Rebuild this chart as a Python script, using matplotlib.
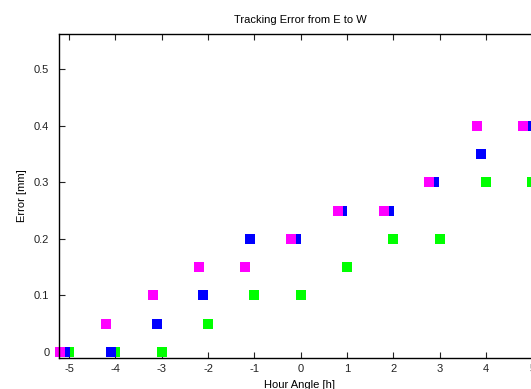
import numpy as np
import matplotlib.pyplot as plt

# Tracking error vs hour angle, three series
x_green = [-5, -4, -3, -2, -1, 0, 1, 2, 3, 4, 5]
y_green = [0.0, 0.0, 0.0, 0.05, 0.1, 0.1, 0.15, 0.2, 0.2, 0.3, 0.3]

x_blue = [-5.09, -4.1, -3.1, -2.1, -1.1, -0.1, 0.89, 1.9, 2.88, 3.89, 4.9]
y_blue = [0.0, 0.0, 0.05, 0.1, 0.2, 0.2, 0.25, 0.25, 0.3, 0.35, 0.4]

x_magenta = [-5.2, -4.2, -3.2, -2.2, -1.2, -0.21, 0.8, 1.79, 2.78, 3.8, 4.8]
y_magenta = [0.0, 0.05, 0.1, 0.15, 0.15, 0.2, 0.25, 0.25, 0.3, 0.4, 0.4]

x_ticks = [-5, -4, -3, -2, -1, 0, 1, 2, 3, 4, 5]
y_ticks = [0, 0.1, 0.2, 0.3, 0.4, 0.5]
y_ticklabels = ["0", "0.1", "0.2", "0.3", "0.4", "0.5"]

plt.rcParams['font.family'] = ['Liberation Sans', 'DejaVu Sans']
plt.rcParams['axes.unicode_minus'] = False

W, H = 531, 389
fig = plt.figure(figsize=(W / 100, H / 100), dpi=100)
# axes runs past the right edge of the picture, like the original
left, right, top, bottom = 59, 541, 34, 358
ax = fig.add_axes([left / W, 1 - bottom / H, (right - left) / W, (bottom - top) / H])

ms = 7.2
ax.plot(x_green, y_green, 's', color='#00ff00', ms=ms, mew=0, clip_on=False)
ax.plot(x_blue, y_blue, 's', color='#0000ff', ms=ms, mew=0, clip_on=False)
ax.plot(x_magenta, y_magenta, 's', color='#ff00ff', ms=ms, mew=0, clip_on=False)

ax.set_xlim(-5.22, 5.19)
ax.set_ylim(-0.0106, 0.562)
ax.set_xticks(x_ticks)
ax.set_yticks(y_ticks)
ax.set_yticklabels(y_ticklabels)

ax.tick_params(direction='in', length=4, width=0.8, top=True, right=True,
               labelsize=8, colors='#222222')
ax.tick_params(axis='x', pad=4.5)
ax.tick_params(axis='y', pad=7)
for s in ax.spines.values():
    s.set_linewidth(1.0)

ax.set_title("Tracking Error from E to W", fontsize=8, pad=8)
ax.set_xlabel("Hour Angle [h]", fontsize=8, labelpad=4.5)
ax.set_ylabel("Error [mm]", fontsize=8, labelpad=5)

fig.savefig("out.png", dpi=100)
